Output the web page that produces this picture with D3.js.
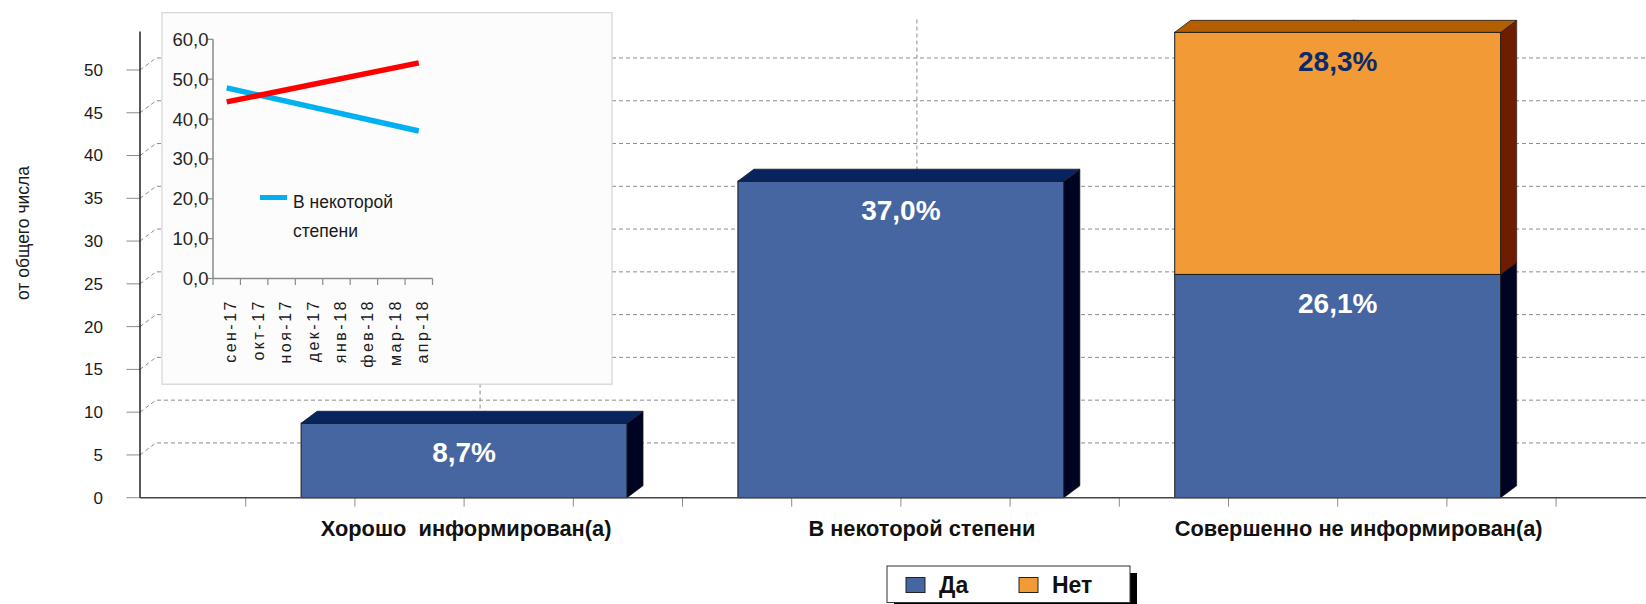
<!DOCTYPE html>
<html><head><meta charset="utf-8">
<script src="https://cdn.jsdelivr.net/npm/d3@7"></script>
<style>
html,body{margin:0;padding:0;background:#fff;}
svg{display:block;}
text{font-family:"Liberation Sans",Arial,sans-serif;}
</style></head>
<body>
<svg id="chart" width="1646" height="604"></svg>
<script>
// ---------- data ----------
const categories = ["Хорошо  информирован(а)", "В некоторой степени", "Совершенно не информирован(а)"];
const seriesKeys = ["Да", "Нет"];
const daValues  = [8.7, 37.0, 26.1];
const netValues = [0, 0, 28.3];
const yTickValues = [0, 5, 10, 15, 20, 25, 30, 35, 40, 45, 50];
const yAxisTitle = "от общего числа";

const months = ["сен-17", "окт-17", "ноя-17", "дек-17", "янв-18", "фев-18", "мар-18", "апр-18"];
const insetBlue = [47.8, null, null, null, null, null, null, 37.0];
const insetRed  = [44.3, null, null, null, null, null, null, 54.1];
const insetYTicks = [0, 10, 20, 30, 40, 50, 60];
const insetLegendLines = ["В некоторой", "степени"];

// ---------- layout ----------
const svg = d3.select("#chart");
const W = 1646;
const DX = 16, DY = -12;
const axisX = 140;

const y = d3.scaleLinear().domain([0, 54.5]).range([497.7, 31.5]);
const x = d3.scaleBand().domain(categories).range([245.7, 1556.1])
  .paddingInner(0.2537).paddingOuter(0.1268);

const table = categories.map((c, i) => ({cat: c, "Да": daValues[i], "Нет": netValues[i]}));
const stacked = d3.stack().keys(seriesKeys)(table);

const colors = {
  "Да":  {front: "#4566a1", top: "#08245e", side: "#000423", label: "#ffffff"},
  "Нет": {front: "#f29b36", top: "#b45e00", side: "#6f1d00", label: "#0c2a6a"}
};

// gridlines (back wall)
const grid = svg.append("g");
yTickValues.filter(v => v > 0).forEach(v => {
  const yy = y(v);
  grid.append("path")
    .attr("d", `M${axisX},${yy} L${axisX + DX},${yy + DY} L${W},${yy + DY}`)
    .attr("fill", "none").attr("stroke", "#8c8c8c").attr("stroke-width", 1)
    .attr("stroke-dasharray", "4,3");
});
categories.forEach(c => {
  const cx = x(c) + x.bandwidth() / 2 + DX;
  grid.append("line").attr("x1", cx).attr("x2", cx)
    .attr("y1", y(54.5) + DY).attr("y2", y(0) + DY)
    .attr("stroke", "#8c8c8c").attr("stroke-dasharray", "4,3");
});

// y axis ticks & labels
const yAxisG = svg.append("g");
yTickValues.forEach(v => {
  yAxisG.append("line").attr("x1", axisX - 13.5).attr("x2", axisX)
    .attr("y1", y(v)).attr("y2", y(v)).attr("stroke", "#8c8c8c");
  yAxisG.append("text").attr("x", 103).attr("y", y(v)).attr("dy", "0.35em")
    .attr("text-anchor", "end").attr("font-size", 17).attr("fill", "#1a1a1a")
    .text(d3.format("d")(v));
});
yAxisG.append("line").attr("x1", axisX).attr("x2", axisX)
  .attr("y1", y(54.5)).attr("y2", y(0)).attr("stroke", "#222").attr("stroke-width", 1.5);
svg.append("text")
  .attr("transform", `translate(29,233) rotate(-90)`)
  .attr("text-anchor", "middle").attr("font-size", 17.5).attr("fill", "#1a1a1a")
  .text(yAxisTitle);

// x axis minor ticks
const step = x.step();
const tickPos = [];
categories.forEach(c => {
  const cc = x(c) + x.bandwidth() / 2;
  for (let k = -2; k <= 2; k++) tickPos.push(Math.round((cc + k * step / 4) * 10) / 10);
});
Array.from(new Set(tickPos)).forEach(t => {
  svg.append("line").attr("x1", t).attr("x2", t).attr("y1", y(0)).attr("y2", y(0) + 9)
    .attr("stroke", "#8c8c8c");
});

// bars
const barsG = svg.append("g");
stacked.forEach(layer => {
  const key = layer.key;
  layer.forEach((d, i) => {
    if (d[1] - d[0] <= 0) return;
    const cat = categories[i];
    const x0 = x(cat), w = x.bandwidth();
    const yt = y(d[1]), yb = y(d[0]);
    const col = colors[key];
    barsG.append("rect").attr("x", x0).attr("y", yt).attr("width", w).attr("height", yb - yt)
      .attr("fill", col.front).attr("stroke", "#1a1a1a").attr("stroke-width", 1);
    barsG.append("polygon")
      .attr("points", [[x0 + w, yt], [x0 + w + DX, yt + DY], [x0 + w + DX, yb + DY], [x0 + w, yb]].join(" "))
      .attr("fill", col.side).attr("stroke", "#1a1a1a").attr("stroke-width", 0.6);
    barsG.append("polygon")
      .attr("points", [[x0, yt], [x0 + DX, yt + DY], [x0 + w + DX, yt + DY], [x0 + w, yt]].join(" "))
      .attr("fill", col.top).attr("stroke", "#1a1a1a").attr("stroke-width", 0.8);
    barsG.append("text").attr("x", x0 + w / 2).attr("y", yt + 38.5)
      .attr("text-anchor", "middle").attr("font-size", 28).attr("font-weight", "bold")
      .attr("fill", col.label)
      .text(d3.format(".1f")(d[1] - d[0]).replace(".", ",") + "%");
  });
});

// baseline
svg.append("line").attr("x1", axisX).attr("x2", W).attr("y1", y(0)).attr("y2", y(0))
  .attr("stroke", "#444").attr("stroke-width", 1.5);

// category labels
const labelNudge = [-19, 0, 0];
categories.forEach((c, i) => {
  svg.append("text").attr("x", x(c) + x.bandwidth() / 2 + 21 + labelNudge[i]).attr("y", 536)
    .attr("text-anchor", "middle").attr("font-size", 21.8).attr("font-weight", "bold")
    .attr("fill", "#111").style("white-space", "pre").text(c);
});

// legend
const lg = svg.append("g");
lg.append("rect").attr("x", 894).attr("y", 573).attr("width", 243).attr("height", 37).attr("fill", "#000");
lg.append("rect").attr("x", 887).attr("y", 566).attr("width", 243).attr("height", 36.5)
  .attr("fill", "#fff").attr("stroke", "#333").attr("stroke-width", 1);
const legendX = [906, 1019];
seriesKeys.forEach((k, i) => {
  lg.append("rect").attr("x", legendX[i]).attr("y", 577.5).attr("width", 19).attr("height", 15)
    .attr("fill", colors[k].front).attr("stroke", "#222").attr("stroke-width", 1);
  lg.append("text").attr("x", legendX[i] + 33).attr("y", 592.5).attr("font-size", 23)
    .attr("font-weight", "bold").attr("fill", "#111").text(k);
});

// ---------- inset ----------
const ins = svg.append("g");
ins.append("rect").attr("x", 162).attr("y", 12.7).attr("width", 450).attr("height", 371.5)
  .attr("fill", "#fcfcfc").attr("stroke", "#d4d4d4").attr("stroke-width", 1.2);
const ix = d3.scaleBand().domain(months).range([213, 432.5]);
const iy = d3.scaleLinear().domain([0, 60]).range([278.5, 39.3]);
ins.append("line").attr("x1", 213).attr("x2", 213).attr("y1", iy(60)).attr("y2", iy(0))
  .attr("stroke", "#8a8a8a").attr("stroke-width", 1.5);
insetYTicks.forEach(v => {
  ins.append("line").attr("x1", 208).attr("x2", 213).attr("y1", iy(v)).attr("y2", iy(v))
    .attr("stroke", "#8a8a8a").attr("stroke-width", 1.2);
  ins.append("text").attr("x", 208.5).attr("y", iy(v)).attr("dy", "0.35em")
    .attr("text-anchor", "end").attr("font-size", 18.5).attr("fill", "#262626")
    .attr("font-family", "'Liberation Sans Narrow','Liberation Sans',sans-serif")
    .text(d3.format(".1f")(v).replace(".", ","));
});
ins.append("line").attr("x1", 213).attr("x2", 432.5).attr("y1", iy(0)).attr("y2", iy(0))
  .attr("stroke", "#8a8a8a").attr("stroke-width", 1.5);
months.map(m => ix(m)).concat([ix.range()[1]]).forEach(t => {
  ins.append("line").attr("x1", t).attr("x2", t).attr("y1", iy(0)).attr("y2", iy(0) + 6.5)
    .attr("stroke", "#8a8a8a").attr("stroke-width", 1.2);
});
months.forEach(m => {
  const cx = ix(m) + ix.bandwidth() / 2;
  ins.append("text").attr("transform", `translate(${cx + 9.5},299) rotate(-90)`)
    .attr("text-anchor", "end").attr("font-size", 16).attr("fill", "#1a1a1a")
    .attr("font-family", "'DejaVu Sans',sans-serif").attr("letter-spacing", "2.5px")
    .text(m);
});
const lineGen = d3.line().x(d => ix(d.m) + ix.bandwidth() / 2).y(d => iy(d.v));
[[insetBlue, "#00b0f0"], [insetRed, "#ff0000"]].forEach(([vals, col]) => {
  const pts = months.map((m, i) => ({m, v: vals[i]})).filter(d => d.v != null);
  ins.append("path").attr("d", lineGen(pts)).attr("fill", "none")
    .attr("stroke", col).attr("stroke-width", 5.5);
});
ins.append("line").attr("x1", 260).attr("x2", 287).attr("y1", 197.5).attr("y2", 197.5)
  .attr("stroke", "#00b0f0").attr("stroke-width", 5);
insetLegendLines.forEach((t, i) => {
  ins.append("text").attr("x", 293).attr("y", 207.5 + i * 29)
    .attr("font-size", 17.5).attr("fill", "#1a1a1a")
    .attr("font-family", "'Liberation Sans Narrow','Liberation Sans',sans-serif")
    .text(t);
});
</script>
</body></html>
